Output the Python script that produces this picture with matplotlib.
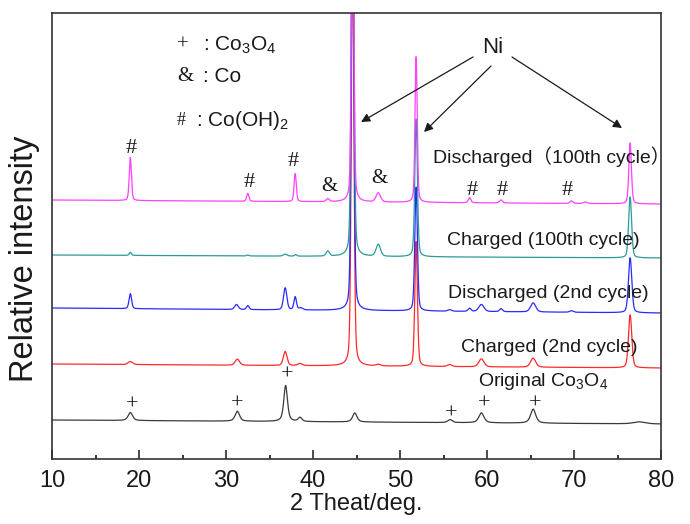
import matplotlib.pyplot as plt
import numpy as np

plt.rcParams["font.family"] = ["Liberation Sans", "Noto Sans CJK SC", "DejaVu Sans"]
plt.rcParams["mathtext.fontset"] = "custom"
plt.rcParams["mathtext.rm"] = "Liberation Sans"

INK = "#1a1a1a"
SERIF = ["Liberation Serif", "DejaVu Serif"]

TWO_THETA = np.linspace(10, 80, 3501)

# each pattern: stacking baseline (left end, right end) and peak table
# (position / deg, height / a.u., FWHM / deg)
ORIGINAL_BASE = (39, 35)
ORIGINAL_POS = [19.0, 31.3, 36.85, 38.5, 44.8, 55.75, 59.35, 65.3, 77.5]
ORIGINAL_HEIGHT = [8, 10, 36, 4, 9, 3, 10, 14, 2]
ORIGINAL_FWHM = [0.6, 0.6, 0.5, 0.5, 0.6, 0.6, 0.7, 0.7, 1.6]

CHARGED2_BASE = (95, 91)
CHARGED2_POS = [19.0, 31.3, 36.8, 38.5, 44.55, 47.5, 51.85, 55.7, 59.35, 65.3, 76.45]
CHARGED2_HEIGHT = [3, 6, 14, 2, 420, 1.5, 125, 2, 8, 9, 53]
CHARGED2_FWHM = [0.6, 0.6, 0.5, 0.6, 0.35, 0.6, 0.35, 0.6, 0.7, 0.7, 0.45]

DISCHARGED2_BASE = (151, 146)
DISCHARGED2_POS = [19.0, 31.2, 32.5, 36.8, 37.95, 38.6, 44.55, 51.85, 55.7, 58.0, 59.35, 61.6, 65.3, 69.7, 76.45]
DISCHARGED2_HEIGHT = [15, 5, 4, 22, 13, 2, 420, 124, 1.5, 3, 7, 3, 9, 1.5, 55]
DISCHARGED2_FWHM = [0.35, 0.5, 0.35, 0.45, 0.35, 0.5, 0.35, 0.35, 0.5, 0.4, 0.7, 0.4, 0.7, 0.5, 0.45]

CHARGED100_BASE = (204, 201)
CHARGED100_POS = [19.0, 32.5, 36.8, 38.0, 41.7, 44.55, 47.5, 51.85, 76.45]
CHARGED100_HEIGHT = [3, 1, 2, 1.5, 5, 420, 12, 138, 61]
CHARGED100_FWHM = [0.3, 0.3, 0.5, 0.3, 0.45, 0.35, 0.6, 0.35, 0.4]

DISCHARGED100_BASE = (259, 255)
DISCHARGED100_POS = [19.0, 32.5, 37.95, 41.7, 44.55, 47.5, 51.85, 58.0, 61.6, 69.7, 71.3, 76.45]
DISCHARGED100_HEIGHT = [43, 8, 28, 3, 420, 9, 146, 5, 3, 2.5, 1.5, 61]
DISCHARGED100_FWHM = [0.3, 0.3, 0.3, 0.4, 0.3, 0.6, 0.3, 0.35, 0.4, 0.4, 0.5, 0.35]

# colour, Lorentzian fraction of the peak shape, data
PATTERNS = [
    ("#3a3a3a", 0.6, ORIGINAL_BASE, ORIGINAL_POS, ORIGINAL_HEIGHT, ORIGINAL_FWHM),
    ("#ff2a2a", 0.3, CHARGED2_BASE, CHARGED2_POS, CHARGED2_HEIGHT, CHARGED2_FWHM),
    ("#2a2aff", 0.3, DISCHARGED2_BASE, DISCHARGED2_POS, DISCHARGED2_HEIGHT, DISCHARGED2_FWHM),
    ("#2a9a9a", 0.3, CHARGED100_BASE, CHARGED100_POS, CHARGED100_HEIGHT, CHARGED100_FWHM),
    ("#ff40ff", 0.3, DISCHARGED100_BASE, DISCHARGED100_POS, DISCHARGED100_HEIGHT, DISCHARGED100_FWHM),
]

CO3O4 = "Co$_\\mathregular{3}$O$_\\mathregular{4}$"


def pseudo_voigt(x, pos, height, fwhm, eta):
    u = (x - pos) / fwhm
    gauss = np.exp(-4 * np.log(2) * u**2)
    lorentz = 1 / (1 + 4 * u**2)
    return height * (eta * lorentz + (1 - eta) * gauss)


def pattern(base, positions, heights, widths, eta):
    y = np.interp(TWO_THETA, [10, 80], base)
    for pos, h, w in zip(positions, heights, widths):
        y = y + pseudo_voigt(TWO_THETA, pos, h, w, eta)
    return y


fig = plt.figure(figsize=(6.9, 5.24), dpi=100)
ax = fig.add_axes([0.0754, 0.124, 0.8826, 0.8512])

for color, eta, base, pos, h, w in PATTERNS:
    ax.plot(TWO_THETA, pattern(base, pos, h, w, eta), color=color, lw=0.9)

ax.set_xlim(10, 80)
ax.set_ylim(0, 446)
ax.set_xticks(np.arange(10, 81, 10))
ax.set_xticks(np.arange(15, 80, 10), minor=True)
ax.set_yticks([])
ax.tick_params(axis="x", which="major", direction="in", length=6.5, width=1.1,
               labelsize=17, pad=8, colors=INK)
ax.tick_params(axis="x", which="minor", direction="in", length=3, width=1.1)
for spine in ax.spines.values():
    spine.set_linewidth(1.2)
    spine.set_color("#333333")

ax.set_xlabel("2 Theat/deg.", fontsize=17, labelpad=0.5, color=INK)
ax.set_ylabel("Relative intensity", fontsize=23.5, color=INK)
ax.yaxis.set_label_coords(-0.019, 0.448)

# phase key
ax.text(25.06, 414, "+", family=SERIF, fontsize=15, ha="center", va="center", color=INK)
ax.text(27.4, 414, ": " + CO3O4, fontsize=15, ha="left", va="center", color=INK)
ax.text(25.29, 382, "&", family=SERIF, fontsize=15, ha="center", va="center", color=INK)
ax.text(27.4, 382, ": Co", fontsize=15, ha="left", va="center", color=INK)
ax.text(24.83, 339, "#", family=SERIF, fontsize=13, ha="center", va="center", color=INK)
ax.text(26.5, 339, ": Co(OH)$_\\mathregular{2}$", fontsize=15, ha="left", va="center", color=INK)

# peak markers
for x, y, s in [(19.08, 311, "#"), (32.64, 277, "#"), (37.7, 298, "#"),
                (41.84, 273, "&"), (47.59, 281, "&"), (58.28, 269, "#"),
                (61.72, 269, "#"), (69.2, 269, "#")]:
    ax.text(x, y, s, family=SERIF, fontsize=15 if s == "&" else 16,
            ha="center", va="center", color=INK)
for x, y in [(19.2, 54), (31.26, 55), (37.01, 84), (55.86, 45), (59.66, 55), (65.52, 55)]:
    ax.text(x, y, "+", family=SERIF, fontsize=16, ha="center", va="center", color=INK)

# Ni arrows
ax.text(60.69, 411, "Ni", fontsize=16, ha="center", va="center", color=INK)
for tail, head in [((58.39, 402), (45.52, 337)), ((60.46, 393), (52.76, 327)),
                   ((62.87, 402), (75.52, 331))]:
    ax.annotate("", xy=head, xytext=tail,
                arrowprops=dict(arrowstyle="-|>", color=INK, lw=0.9,
                                mutation_scale=13, shrinkA=0, shrinkB=0))

# curve labels
ax.text(53.79, 302, "Discharged（100th cycle）", fontsize=14, ha="left", va="center", color=INK)
ax.text(55.4, 219, "Charged (100th cycle)", fontsize=14, ha="left", va="center", color=INK)
ax.text(55.52, 166, "Discharged (2nd cycle)", fontsize=14, ha="left", va="center", color=INK)
ax.text(57.01, 112, "Charged (2nd cycle)", fontsize=14, ha="left", va="center", color=INK)
ax.text(58.97, 78, "Original " + CO3O4, fontsize=14, ha="left", va="center", color=INK)

fig.savefig("out.png", dpi=100)
